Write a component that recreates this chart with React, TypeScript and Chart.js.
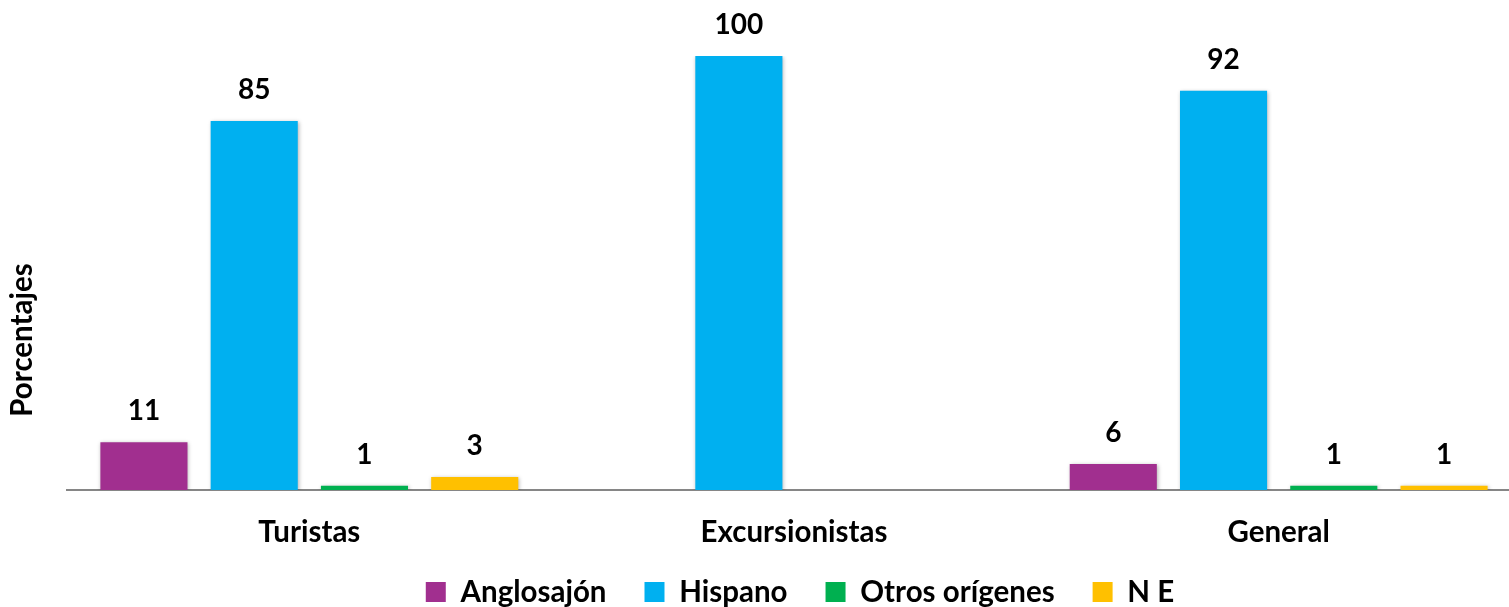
import React, { useEffect, useRef } from "react";
import { Chart, registerables } from "chart.js";

Chart.register(...registerables);

const categories = ["Turistas", "Excursionistas", "General"];
const seriesNames = ["Anglosajón", "Hispano", "Otros orígenes", "N E"];
const anglosajon = [11, null, 6];
const hispano = [85, 100, 92];
const otros = [1, null, 1];
const ne = [3, null, 1];
const seriesColors = ["#A12F8F", "#00B0F0", "#00B050", "#FFC000"];
const yTitle = "Porcentajes";

const FONT = "Lato, 'Noto Sans', sans-serif";
const WORD_SIZE = 29.5;
const NUM_SIZE = 28;

const shadowPlugin = {
  id: "barShadow",
  beforeDatasetsDraw(chart: any) {
    const ctx = chart.ctx;
    ctx.save();
    ctx.shadowColor = "rgba(0,0,0,0.3)";
    ctx.shadowBlur = 4;
    ctx.shadowOffsetX = 1;
    ctx.shadowOffsetY = 1;
  },
  afterDatasetsDraw(chart: any) {
    chart.ctx.restore();
  },
};

const labelPlugin = {
  id: "barLabels",
  afterDraw(chart: any) {
    const ctx = chart.ctx;
    ctx.save();
    ctx.fillStyle = "#000";
    ctx.font = `bold ${NUM_SIZE}px ${FONT}`;
    ctx.textAlign = "center";
    ctx.textBaseline = "middle";
    chart.data.datasets.forEach((ds: any, i: number) => {
      const meta = chart.getDatasetMeta(i);
      meta.data.forEach((el: any, j: number) => {
        const v = ds.data[j];
        if (v === null || v === undefined) return;
        ctx.fillText(String(v), el.x, el.y - 31);
      });
    });
    ctx.restore();
  },
};

const yTitlePlugin = {
  id: "yTitle",
  afterDraw(chart: any) {
    const ctx = chart.ctx;
    ctx.save();
    ctx.fillStyle = "#000";
    ctx.font = `bold ${WORD_SIZE}px ${FONT}`;
    ctx.textAlign = "center";
    ctx.textBaseline = "middle";
    ctx.translate(22, 340);
    ctx.rotate(-Math.PI / 2);
    ctx.fillText(yTitle, 0, 0);
    ctx.restore();
  },
};

// move the legend block to the reference position after layout
const legendShiftPlugin = {
  id: "legendShift",
  afterLayout(chart: any) {
    const l = chart.legend;
    if (!l) return;
    const pad = l.options.labels.padding;
    const itemH = Math.max(WORD_SIZE, l.options.labels.boxHeight);
    const desiredTop = 592 - pad - itemH / 2;
    const dy = desiredTop - l.top;
    l.top += dy;
    l.bottom += dy;
    const dx = 6;
    l.left += dx;
    l.right += dx;
  },
};

export default function App() {
  const ref = useRef<HTMLCanvasElement>(null);
  useEffect(() => {
    if (!ref.current) return;
    const values = [anglosajon, hispano, otros, ne];
    const chart = new Chart(ref.current, {
      type: "bar",
      data: {
        labels: categories,
        datasets: seriesNames.map((name, i) => ({
          label: name,
          data: values[i],
          backgroundColor: seriesColors[i],
          borderWidth: 0,
          categoryPercentage: 0.91,
          barPercentage: 0.79,
        })),
      },
      options: {
        responsive: false,
        animation: false,
        layout: { padding: { left: 67, top: 56, right: 0, bottom: 0 } },
        plugins: {
          legend: {
            position: "bottom",
            fullSize: false,
            labels: {
              boxWidth: 20,
              boxHeight: 20,
              padding: 38,
              color: "#000",
              font: { family: FONT, size: WORD_SIZE, weight: "bold" },
            },
          },
          tooltip: { enabled: false },
        },
        scales: {
          x: {
            grid: { display: false, drawTicks: false },
            border: { display: true, color: "#868686", width: 2 },
            ticks: {
              color: "#000",
              padding: 25,
              font: { family: FONT, size: WORD_SIZE, weight: "bold", lineHeight: 1.2 },
            },
          },
          y: { display: false, min: 0, max: 100 },
        },
      },
      plugins: [shadowPlugin, labelPlugin, yTitlePlugin, legendShiftPlugin],
    } as any);
    return () => chart.destroy();
  }, []);
  return (
    <div
      style={{
        position: "absolute",
        left: 0,
        top: 0,
        width: 1509,
        height: 607,
        overflow: "hidden",
        background: "#fff",
      }}
    >
      <canvas ref={ref} width={1521} height={653} style={{ display: "block" }} />
    </div>
  );
}
